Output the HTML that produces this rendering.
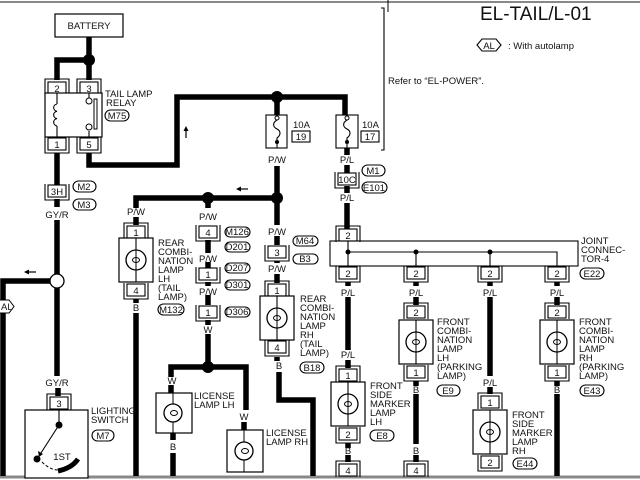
<!DOCTYPE html>
<html><head><meta charset="utf-8"><style>
html,body{margin:0;padding:0;background:#fff}
svg{display:block}
text{font-family:"Liberation Sans",sans-serif;font-size:9.5px;fill:#111}
.m{text-anchor:middle}
.a{font-size:14px;text-anchor:middle}
.w{stroke:#000;stroke-width:5.5;fill:none}
.t{stroke:#000;stroke-width:1.1;fill:none}
</style></head><body>
<svg width="640" height="480" viewBox="0 0 640 480" xmlns="http://www.w3.org/2000/svg">
<defs>
<g id="lamp"><rect x="-17" y="-22" width="34" height="44" fill="#fff" stroke="#000" stroke-width="1.2"/><line x1="0" y1="-22" x2="0" y2="22" stroke="#000" stroke-width="1.1"/><circle r="10" fill="#fff" stroke="#000" stroke-width="1.3"/><line x1="0" y1="-10" x2="0" y2="10" stroke="#000" stroke-width="1"/><ellipse cx="0" cy="0" rx="3.5" ry="2.5" fill="none" stroke="#000" stroke-width="1"/></g>
<g id="cb"><rect x="-9" y="0" width="18" height="12" fill="#fff" stroke="#000" stroke-width="1.1"/><path d="M-12,-1 V15 H12 V-1" fill="none" stroke="#000" stroke-width="1.1"/></g>
<g id="ct"><rect x="-9" y="0" width="18" height="12" fill="#fff" stroke="#000" stroke-width="1.1"/><path d="M-12,13 V-3 H12 V13" fill="none" stroke="#000" stroke-width="1.1"/></g>
</defs>
<rect width="640" height="480" fill="#fff"/>
<line x1="0" y1="2" x2="640" y2="2" stroke="#888" stroke-width="2"/>
<line x1="0" y1="477" x2="640" y2="477" stroke="#888" stroke-width="3"/>
<line x1="388" y1="0" x2="388" y2="12" stroke="#000" stroke-width="1"/>
<text x="480" y="20" style="font-size:19px">EL-TAIL/L-01</text>
<path d="M477,45 l5,-6 h14 l5,6 l-5,6 h-14z" class="t"/><text x="489" y="49" class="m">AL</text>
<text x="508" y="49">: With autolamp</text>
<path d="M381,8 h3 V150 h-3" class="t"/>
<text x="388" y="84">Refer to “EL-POWER”.</text>

<!-- battery & relay -->
<rect x="55" y="14" width="68" height="23" fill="#fff" stroke="#000" stroke-width="1.2"/>
<text x="89" y="29" class="m">BATTERY</text>
<path d="M89,37 V80 M89,60 H57 V80" class="w"/>
<circle cx="89" cy="60" r="6"/>
<use href="#ct" x="57" y="82"/><text x="57" y="92" class="m">2</text>
<use href="#ct" x="89" y="82"/><text x="89" y="92" class="m">3</text>
<rect x="45" y="93" width="57" height="44" fill="#fff" stroke="#000" stroke-width="1.2"/>
<path d="M57,93 V104 M57,126 V137 M57,104 a4,3.7 0 0 0 0,7.3 a4,3.7 0 0 0 0,7.3 a4,3.7 0 0 0 0,7.3" class="t"/>
<path d="M89,93 V98 M89,131 V137" class="t"/><circle cx="89" cy="101" r="3" fill="#fff" stroke="#000"/><circle cx="89" cy="127" r="3" fill="#fff" stroke="#000"/>
<rect x="94" y="99" width="3" height="30" fill="#fff" stroke="#000"/>
<use href="#cb" x="57" y="138"/><text x="57" y="148" class="m">1</text>
<use href="#cb" x="89" y="138"/><text x="89" y="148" class="m">5</text>
<text x="105" y="97">TAIL LAMP</text><text x="106" y="106">RELAY</text>
<rect x="105" y="110" width="24" height="11" rx="5.5" class="t"/><text x="117" y="119" class="m">M75</text>

<path d="M89,153 V165 H177 V97 H345 V115" class="w"/>
<path d="M186,138 V129" stroke="#000" stroke-width="1.2"/><path d="M186,126 l-2.5,5 h5z"/>
<circle cx="277" cy="97" r="6"/>
<!-- fuse 19 -->
<path d="M277,97 V115" class="w"/>
<rect x="266" y="115" width="21" height="33" fill="#fff" stroke="#000" stroke-width="1.1"/>
<path d="M277,115 V120 M277,120 c-5,3 -4,7 0,9 c4,2 4,6 0,9 V148" class="t"/><circle cx="277" cy="118" r="2" fill="#fff" stroke="#000"/><circle cx="277" cy="142" r="2"/>
<text x="293" y="128">10A</text><rect x="292" y="131" width="18" height="11" class="t"/><text x="301" y="140" class="m">19</text>
<text x="277" y="163" class="m">P/W</text>
<path d="M277,166 V225 M277,236 V245 M277,261 V263 M277,274 V283" class="w"/>
<!-- fuse 17 -->
<rect x="336" y="115" width="22" height="33" fill="#fff" stroke="#000" stroke-width="1.1"/>
<path d="M347,115 V120 M347,120 c-5,3 -4,7 0,9 c4,2 4,6 0,9 V148" class="t"/><circle cx="347" cy="118" r="2" fill="#fff" stroke="#000"/><circle cx="347" cy="142" r="2"/>
<text x="362" y="128">10A</text><rect x="361" y="131" width="18" height="11" class="t"/><text x="370" y="140" class="m">17</text>
<path d="M347,148 V155 M347,165 V173 M347,186 V193 M347,203 V230" class="w"/>
<text x="347" y="163" class="m">P/L</text>
<use href="#cb" x="347" y="173"/><text x="347" y="183" class="m">10C</text>
<rect x="362" y="165" width="23" height="11" rx="5.5" class="t"/><text x="373" y="174" class="m">M1</text>
<rect x="362" y="182" width="25" height="11" rx="5.5" class="t"/><text x="374" y="191" class="m">E101</text>
<text x="347" y="201" class="m">P/L</text>

<!-- joint connector -->
<use href="#ct" x="348" y="229"/><text x="348" y="239" class="m">2</text>
<rect x="330" y="241" width="248" height="25" fill="none" stroke="#000" stroke-width="1.1"/>
<path d="M348,241 V266 M348,252 H557 V266 M416,252 V266 M490,252 V266" class="t"/>
<circle cx="348" cy="252" r="2.5"/><circle cx="416" cy="252" r="2.5"/><circle cx="490" cy="252" r="2.5"/>
<text x="581" y="244">JOINT</text><text x="581" y="253">CONNEC-</text><text x="581" y="262">TOR-4</text>
<rect x="580" y="268" width="24" height="11" rx="5.5" class="t"/><text x="592" y="277" class="m">E22</text>
<use href="#cb" x="348" y="267"/><text x="348" y="277" class="m">2</text>
<use href="#cb" x="416" y="267"/><text x="416" y="277" class="m">2</text>
<use href="#cb" x="490" y="267"/><text x="490" y="277" class="m">2</text>
<use href="#cb" x="557" y="267"/><text x="557" y="277" class="m">2</text>

<!-- front side marker LH -->
<path d="M348,282 V286 M348,297 V350 M348,360 V368" class="w"/>
<text x="348" y="296" class="m">P/L</text><text x="348" y="358" class="m">P/L</text>
<use href="#ct" x="348" y="369"/><text x="348" y="379" class="m">1</text>
<use href="#lamp" x="348" y="404"/>
<use href="#cb" x="348" y="428"/><text x="348" y="438" class="m">2</text>
<text x="370" y="389">FRONT</text><text x="370" y="398">SIDE</text><text x="370" y="407">MARKER</text><text x="370" y="416">LAMP</text><text x="370" y="425">LH</text>
<rect x="370" y="430" width="24" height="11" rx="5.5" class="t"/><text x="382" y="439" class="m">E8</text>
<path d="M348,443 V448 M348,455 V462" class="w"/><text x="348" y="454" class="m">B</text>
<use href="#ct" x="348" y="464"/><text x="348" y="474" class="m">4</text>

<!-- front comb LH -->
<path d="M416,282 V286 M416,297 V305" class="w"/><text x="416" y="296" class="m">P/L</text>
<use href="#ct" x="416" y="306"/><text x="416" y="316" class="m">2</text>
<use href="#lamp" x="416" y="342"/>
<use href="#cb" x="416" y="366"/><text x="416" y="376" class="m">1</text>
<path d="M416,381 V386 M416,394 V444 M416,455 V462" class="w"/>
<text x="416" y="393" class="m">B</text><text x="416" y="454" class="m">B</text>
<use href="#ct" x="416" y="464"/><text x="416" y="474" class="m">4</text>
<text x="437" y="325">FRONT</text><text x="437" y="334">COMBI-</text><text x="437" y="343">NATION</text><text x="437" y="352">LAMP</text><text x="437" y="361">LH</text><text x="437" y="370">(PARKING</text><text x="437" y="379">LAMP)</text>
<rect x="437" y="385" width="23" height="11" rx="5.5" class="t"/><text x="448" y="394" class="m">E9</text>

<!-- front side marker RH -->
<path d="M490,282 V286 M490,297 V376 M490,387 V394" class="w"/>
<text x="490" y="296" class="m">P/L</text><text x="490" y="386" class="m">P/L</text>
<use href="#ct" x="490" y="396"/><text x="490" y="406" class="m">1</text>
<use href="#lamp" x="490" y="432"/>
<use href="#cb" x="490" y="456"/><text x="490" y="466" class="m">2</text>
<text x="512" y="418">FRONT</text><text x="512" y="427">SIDE</text><text x="512" y="436">MARKER</text><text x="512" y="445">LAMP</text><text x="512" y="454">RH</text>
<rect x="513" y="458" width="24" height="11" rx="5.5" class="t"/><text x="525" y="467" class="m">E44</text>

<!-- front comb RH -->
<path d="M557,282 V286 M557,297 V305" class="w"/><text x="557" y="296" class="m">P/L</text>
<use href="#ct" x="557" y="306"/><text x="557" y="316" class="m">2</text>
<use href="#lamp" x="557" y="342"/>
<use href="#cb" x="557" y="366"/><text x="557" y="376" class="m">1</text>
<path d="M557,381 V386 M557,394 V476" class="w"/><text x="557" y="393" class="m">B</text>
<text x="579" y="325">FRONT</text><text x="579" y="334">COMBI-</text><text x="579" y="343">NATION</text><text x="579" y="352">LAMP</text><text x="579" y="361">RH</text><text x="579" y="370">(PARKING</text><text x="579" y="379">LAMP)</text>
<rect x="580" y="385" width="24" height="11" rx="5.5" class="t"/><text x="592" y="394" class="m">E43</text>

<!-- branch left -->
<path d="M277,198 H136 V208 M208,198 V208" class="w"/>
<circle cx="277" cy="198" r="6"/><circle cx="208" cy="198" r="6"/>
<path d="M248,189 H240" stroke="#000" stroke-width="1.2"/><path d="M236,189 l5,-2.5 v5z"/>
<!-- rear comb LH -->
<text x="136" y="215" class="m">P/W</text>
<path d="M136,217 V225" class="w"/>
<use href="#ct" x="136" y="226"/><text x="136" y="236" class="m">1</text>
<use href="#lamp" x="136" y="260"/>
<use href="#cb" x="136" y="284"/><text x="136" y="294" class="m">4</text>
<path d="M136,299 V303 M136,313 V476" class="w"/><text x="136" y="311" class="m">B</text>
<text x="158" y="246">REAR</text><text x="158" y="255">COMBI-</text><text x="158" y="264">NATION</text><text x="158" y="273">LAMP</text><text x="158" y="282">LH</text><text x="158" y="291">(TAIL</text><text x="158" y="300">LAMP)</text>
<rect x="158" y="304" width="26" height="11" rx="5.5" class="t"/><text x="171" y="313" class="m">M132</text>

<!-- middle column -->
<text x="208" y="220" class="m">P/W</text>
<use href="#cb" x="208" y="226"/><text x="208" y="236" class="m">4</text>
<path d="M208,240 V253 M208,262 V268 M208,282 V286 M208,295 V305 M208,320 V325 M208,334 V367 H171 V377 M208,367 H246 V410 M171,385 V393" class="w"/>
<text x="208" y="262" class="m">P/W</text>
<use href="#cb" x="208" y="268"/><text x="208" y="278" class="m">1</text>
<text x="208" y="295" class="m">P/W</text>
<use href="#cb" x="208" y="306"/><text x="208" y="316" class="m">1</text>
<text x="208" y="333" class="m">W</text>
<circle cx="208" cy="367" r="6"/>
<rect x="225" y="227" width="25" height="10" rx="5" class="t"/><text x="237" y="235" class="m">M126</text>
<rect x="225" y="242" width="25" height="10" rx="5" class="t"/><text x="237" y="250" class="m">D201</text>
<rect x="225" y="263" width="25" height="10" rx="5" class="t"/><text x="237" y="271" class="m">D207</text>
<rect x="225" y="280" width="25" height="10" rx="5" class="t"/><text x="237" y="288" class="m">D301</text>
<rect x="225" y="307" width="25" height="10" rx="5" class="t"/><text x="237" y="315" class="m">D306</text>
<!-- license lamps -->
<text x="172" y="384" class="m">W</text>
<rect x="156" y="393" width="36" height="40" fill="#fff" stroke="#000" stroke-width="1.2"/>
<line x1="173" y1="393" x2="173" y2="433" stroke="#000"/><circle cx="173" cy="413" r="9" fill="#fff" stroke="#000" stroke-width="1.3"/><ellipse cx="174" cy="413" rx="3.5" ry="2.5" fill="none" stroke="#000"/>
<text x="194" y="399">LICENSE</text><text x="194" y="408">LAMP LH</text>
<text x="173" y="450" class="m">B</text>
<path d="M173,433 V440 M173,453 V476" class="w"/>
<text x="244" y="420" class="m">W</text>
<path d="M244,422 V430" class="w"/>
<rect x="227" y="430" width="36" height="42" fill="#fff" stroke="#000" stroke-width="1.2"/>
<line x1="244" y1="430" x2="244" y2="472" stroke="#000"/><circle cx="244" cy="451" r="9" fill="#fff" stroke="#000" stroke-width="1.3"/><ellipse cx="245" cy="451" rx="3.5" ry="2.5" fill="none" stroke="#000"/>
<text x="266" y="436">LICENSE</text><text x="266" y="445">LAMP RH</text>

<!-- rear comb RH -->
<text x="277" y="235" class="m">P/W</text>
<use href="#cb" x="277" y="246"/><text x="277" y="256" class="m">3</text>
<text x="277" y="272" class="m">P/W</text>
<rect x="293" y="236" width="25" height="10" rx="5" class="t"/><text x="305" y="244" class="m">M64</text>
<rect x="293" y="254" width="25" height="10" rx="5" class="t"/><text x="305" y="262" class="m">B3</text>
<use href="#ct" x="277" y="284"/><text x="277" y="294" class="m">1</text>
<use href="#lamp" x="277" y="318"/>
<use href="#cb" x="277" y="341"/><text x="277" y="351" class="m">4</text>
<path d="M277,357 V361" class="w"/>
<text x="279" y="369" class="m">B</text>
<path d="M279,372 V400 H313 V476" class="w"/>
<text x="300" y="302">REAR</text><text x="300" y="311">COMBI-</text><text x="300" y="320">NATION</text><text x="300" y="329">LAMP</text><text x="300" y="338">RH</text><text x="300" y="347">(TAIL</text><text x="300" y="356">LAMP)</text>
<rect x="300" y="362" width="24" height="11" rx="5.5" class="t"/><text x="312" y="371" class="m">B18</text>

<!-- left: 3H, switch -->
<path d="M57,153 V185 M57,199 V207 M57,220 V274 M57,288 V376" class="w"/>
<use href="#cb" x="57" y="185"/><text x="57" y="195" class="m">3H</text>
<rect x="73" y="181" width="23" height="11" rx="5.5" class="t"/><text x="84" y="190" class="m">M2</text>
<rect x="73" y="199" width="23" height="11" rx="5.5" class="t"/><text x="84" y="208" class="m">M3</text>
<text x="57" y="218" class="m">GY/R</text>
<circle cx="57" cy="281" r="7" fill="#fff" stroke="#000" stroke-width="1.3"/>
<path d="M50,281 H3 V476" class="w"/>
<path d="M36,272 H28" stroke="#000" stroke-width="1.2"/><path d="M24,272 l5,-2.5 v5z"/>
<path d="M0,300 h9 l5,6.5 l-5,6.5 h-9" fill="#fff" stroke="#000"/><text x="1" y="310">AL</text>
<text x="57" y="386" class="m">GY/R</text>
<path d="M58,388 V396" class="w"/>
<use href="#ct" x="59" y="397"/><text x="59" y="407" class="m">3</text>
<rect x="25" y="410" width="63" height="68" fill="#fff" stroke="#000" stroke-width="1.2"/>
<path d="M59,410 V423 M59,425 L39,456" class="t"/>
<circle cx="59" cy="425" r="3.5"/><circle cx="37" cy="459" r="3.5"/>
<path d="M39,457 l-1,-6 l5,3z"/>
<path d="M42,462 q8,8 16,8" fill="none" stroke="#000" stroke-dasharray="3,2"/>
<path d="M58,471 q14,-3 20,-12" fill="none" stroke="#000" stroke-width="5"/>
<text x="62" y="460" class="m">1ST</text>
<text x="91" y="414">LIGHTING</text><text x="91" y="423">SWITCH</text>
<rect x="92" y="430" width="22" height="11" rx="5.5" class="t"/><text x="103" y="439" class="m">M7</text>
</svg>
</body></html>
